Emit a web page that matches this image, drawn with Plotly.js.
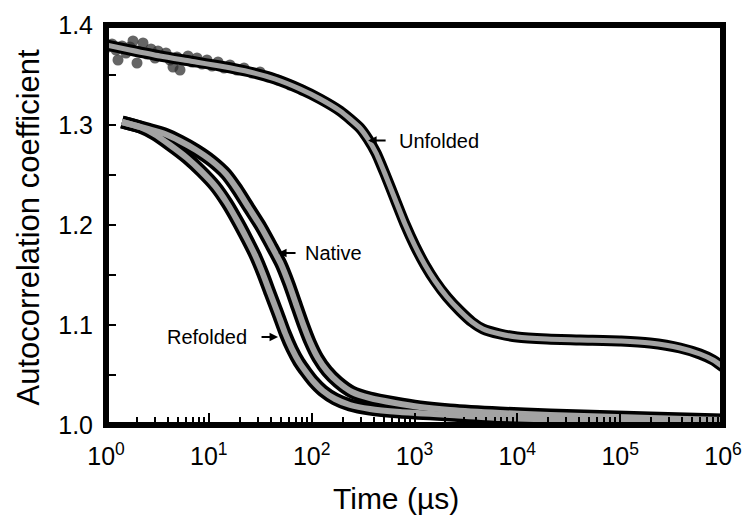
<!DOCTYPE html>
<html><head><meta charset="utf-8">
<script src="https://cdn.plot.ly/plotly-3.0.1.min.js"></script>
<style>html,body{margin:0;padding:0;background:#fff}</style>
</head><body><div id="chart" style="width:749px;height:517px"></div>
<script>
// ---- data ----
const unfoldedFitT = [1, 1.71, 3.35, 6.56, 12.8, 25.1, 44.0, 77.1, 121, 189, 236, 295, 353, 423, 517, 646, 808, 1011, 1265, 1582, 2072, 2772, 3625, 4640, 6790, 9930, 19450, 40700, 101900, 195000, 382000, 597000, 800000, 1000000];
const unfoldedFitY = [1.380, 1.375, 1.369, 1.364, 1.359, 1.353, 1.346, 1.336, 1.326, 1.314, 1.306, 1.297, 1.286, 1.272, 1.251, 1.226, 1.201, 1.179, 1.160, 1.144, 1.128, 1.114, 1.103, 1.096, 1.091, 1.088, 1.086, 1.085, 1.084, 1.082, 1.077, 1.071, 1.065, 1.058];
const unfoldedPtsT = [0.957, 1.046, 1.144, 1.251, 1.308, 1.431, 1.565, 1.712, 1.830, 2.002, 2.141, 2.290, 2.504, 2.739, 2.996, 3.203, 3.504, 3.832, 4.192, 4.483, 4.904, 5.244, 5.735, 6.273, 6.861, 7.674, 8.584, 9.600, 10.74, 12.28, 14.05, 16.07, 18.79, 21.98, 26.29, 31.45, 37.62, 47.07, 61.56, 80.55];
const unfoldedPtsY = [1.383, 1.378, 1.381, 1.375, 1.365, 1.379, 1.372, 1.378, 1.384, 1.362, 1.373, 1.382, 1.371, 1.376, 1.367, 1.374, 1.369, 1.372, 1.365, 1.358, 1.368, 1.355, 1.365, 1.369, 1.363, 1.367, 1.361, 1.365, 1.359, 1.363, 1.357, 1.360, 1.355, 1.357, 1.352, 1.353, 1.348, 1.345, 1.340, 1.335];
const nativeT = [1.43, 2.56, 3.75, 5.24, 7.50, 10.7, 14.7, 18.8, 24.6, 32.2, 40.2, 50.3, 60.2, 70.4, 82.4, 96.4, 115, 141, 180, 247, 369, 646, 1132, 2215, 6790, 20800, 63700, 195000, 1000000];
const nativeY = [1.303, 1.296, 1.291, 1.284, 1.275, 1.264, 1.251, 1.236, 1.217, 1.198, 1.180, 1.161, 1.141, 1.121, 1.101, 1.083, 1.067, 1.054, 1.043, 1.033, 1.027, 1.022, 1.018, 1.015, 1.012, 1.010, 1.0085, 1.007, 1.005];
const refoldedT = [1.43, 2.14, 2.93, 4.19, 6.13, 8.39, 11.48, 15.0, 19.2, 23.5, 28.1, 33.6, 39.4, 47.1, 55.1, 64.4, 75.3, 88.1, 103, 129, 169, 236, 369, 723, 2215, 6790, 63700, 1000000];
const refoldedY = [1.303, 1.298, 1.291, 1.280, 1.267, 1.254, 1.239, 1.222, 1.203, 1.186, 1.170, 1.151, 1.132, 1.111, 1.092, 1.076, 1.063, 1.053, 1.044, 1.034, 1.026, 1.020, 1.016, 1.013, 1.010, 1.007, 1.0045, 1.003];
const xTickVals = [1, 10, 100, 1000, 10000, 100000, 1000000];
const xTickText = ['10<sup>0</sup>', '10<sup>1</sup>', '10<sup>2</sup>', '10<sup>3</sup>', '10<sup>4</sup>', '10<sup>5</sup>', '10<sup>6</sup>'];
const yTickVals = [1.0, 1.1, 1.2, 1.3, 1.4];
const yTickText = ['1.0', '1.1', '1.2', '1.3', '1.4'];
const seriesNames = ['Unfolded', 'Native', 'Refolded'];
const xTitle = 'Time (µs)';
const yTitle = 'Autocorrelation coefficient';
// label placement: [arrow tip t, arrow tip y, arrow tail offset px, text t, text y]
const labelSpots = {
  Unfolded: [354, 1.2845, 19, 680, 1.2845],
  Native:   [47.1, 1.172, 19, 82, 1.172],
  Refolded: [47.1, 1.088, -18, 24.6, 1.088]
};

const FONT = 'Liberation Sans, Arial, Helvetica, sans-serif';
const BLACK = '#000000', GRAY = '#a3a3a3';
const SM = 0.6;

const traces = [
  {x: unfoldedPtsT, y: unfoldedPtsY, mode: 'markers', type: 'scatter',
   marker: {size: 11, color: 'rgba(50,50,50,0.75)', line: {width: 0}}, hoverinfo: 'skip'},
  {x: unfoldedFitT, y: unfoldedFitY, mode: 'lines', line: {color: BLACK, width: 11, shape: 'spline', smoothing: SM}},
  {x: nativeT, y: nativeY, mode: 'lines', line: {color: BLACK, width: 13, shape: 'spline', smoothing: SM}},
  {x: refoldedT, y: refoldedY, mode: 'lines', line: {color: BLACK, width: 13, shape: 'spline', smoothing: SM}},
  {x: unfoldedFitT, y: unfoldedFitY, mode: 'lines', line: {color: GRAY, width: 5, shape: 'spline', smoothing: SM}},
  {x: nativeT, y: nativeY, mode: 'lines', line: {color: GRAY, width: 6, shape: 'spline', smoothing: SM}},
  {x: refoldedT, y: refoldedY, mode: 'lines', line: {color: GRAY, width: 6, shape: 'spline', smoothing: SM}}
];

const annotations = [];
seriesNames.forEach(name => {
  const s = labelSpots[name];
  annotations.push({x: Math.log10(s[0]), y: s[1], xref: 'x', yref: 'y', text: '',
    showarrow: true, ax: s[2], ay: 0, arrowhead: 2, arrowsize: 0.85, arrowwidth: 2, arrowcolor: BLACK, standoff: 0, startstandoff: 0});
  annotations.push({x: Math.log10(s[3]), y: s[4], xref: 'x', yref: 'y', text: name, showarrow: false,
    xanchor: s[2] > 0 ? 'left' : 'right', yanchor: 'middle', font: {family: FONT, size: 20, color: BLACK}});
});
annotations.push({x: (396 - 106) / 617, y: -0.183, xref: 'paper', yref: 'paper', text: xTitle, showarrow: false,
  xanchor: 'center', yanchor: 'middle', font: {family: FONT, size: 30, color: BLACK}});
annotations.push({x: -0.125, y: 0.496, xref: 'paper', yref: 'paper', text: yTitle, showarrow: false, textangle: -90,
  xanchor: 'center', yanchor: 'middle', font: {family: FONT, size: 31, color: BLACK}});

const layout = {
  width: 749, height: 517,
  margin: {l: 106, r: 26, t: 25, b: 92, pad: 0},
  paper_bgcolor: '#ffffff', plot_bgcolor: '#ffffff',
  showlegend: false,
  xaxis: {type: 'log', range: [0, 6], showline: false, showgrid: false, zeroline: false,
    tickvals: xTickVals, ticktext: xTickText, ticks: 'inside', ticklen: 12, tickwidth: 2, tickcolor: BLACK,
    tickfont: {family: FONT, size: 25, color: BLACK}, ticklabelstandoff: 14,
    minor: {ticks: 'inside', ticklen: 8, tickwidth: 2, tickcolor: BLACK, dtick: 'D1', showgrid: false}},
  yaxis: {range: [1.0, 1.4], showline: false, showgrid: false, zeroline: false,
    tickvals: yTickVals, ticktext: yTickText, ticks: 'inside', ticklen: 10, tickwidth: 2, tickcolor: BLACK,
    tickfont: {family: FONT, size: 25, color: BLACK}, ticklabelstandoff: 12,
    minor: {ticks: 'inside', ticklen: 10, tickwidth: 2, tickcolor: BLACK, dtick: 0.05, showgrid: false}},
  shapes: [{type: 'rect', xref: 'paper', yref: 'paper', x0: 0, x1: 1, y0: 0, y1: 1,
    line: {color: BLACK, width: 6}, layer: 'above'}],
  annotations: annotations
};

Plotly.newPlot('chart', traces, layout, {staticPlot: true, displayModeBar: false});
</script>
</body></html>
